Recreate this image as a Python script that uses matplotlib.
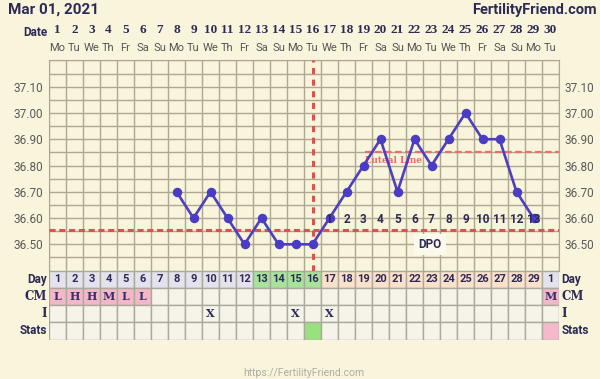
import numpy as np
import matplotlib
matplotlib.use('Agg')
from matplotlib import pyplot as plt
from matplotlib.patches import Rectangle
from matplotlib import transforms

# cycle data
days = list(range(1, 31))
weekdays = ['Mo', 'Tu', 'We', 'Th', 'Fr', 'Sa', 'Su'] * 4 + ['Mo', 'Tu']
temp_days = list(range(8, 30))
temps = [36.70, 36.60, 36.70, 36.60, 36.50, 36.60, 36.50, 36.50, 36.50,
         36.60, 36.70, 36.80, 36.90, 36.70, 36.90, 36.80, 36.90, 37.00,
         36.90, 36.90, 36.70, 36.60]
coverline = 36.555
luteal_line = 36.85
luteal_start = 19.1
ovulation_day = 16
dpo_days = list(range(17, 30))
dpo_labels = [str(i) for i in range(1, 14)]
ytick_vals = [36.50, 36.60, 36.70, 36.80, 36.90, 37.00, 37.10]
ylim = (36.40, 37.20)

table_day_labels = [str(d) for d in range(1, 30)] + ['1']
cm_values = {1: 'L', 2: 'H', 3: 'H', 4: 'M', 5: 'L', 6: 'L', 30: 'M'}
intercourse_days = [10, 15, 17]
stats_colors = {16: '#9be080', 30: '#f4b9cb'}
row_names = ['Day', 'CM', 'I', 'Stats']

bg = '#f9f4dc'
navy = '#2d2b55'
grid_c = '#aca891'
line_c = '#4d3fbf'
red_c = '#d9534f'

fig = plt.figure(figsize=(6, 3.79), dpi=100, facecolor=bg)
ax = fig.add_axes([49 / 600, 108.4 / 379, 510 / 600, 210.2 / 379])
ax.set_facecolor(bg)
ax.set_xlim(0.5, 30.5)
ax.set_ylim(*ylim)

for x in np.arange(0.5, 31, 1):
    ax.axvline(x, color=grid_c, lw=1, zorder=1)
for y in np.arange(ylim[0], ylim[1] + 0.001, 0.05):
    ax.axhline(y, color=grid_c, lw=1, zorder=1)
for s in ax.spines.values():
    s.set_color(grid_c)

ax.set_xticks([])
ax.set_yticks(ytick_vals)
ax.set_yticklabels(['%.2f' % v for v in ytick_vals])
ax.tick_params(axis='y', length=0, labelsize=8.5, labelcolor='#5a5a5a',
               labelright=True, pad=4)
for lab in ax.yaxis.get_ticklabels(which='both'):
    lab.set_family('Roboto')
for t in ax.yaxis.get_major_ticks():
    t.label2.set_family('Roboto')

# coverline, ovulation and luteal lines
ax.axhline(coverline, color=red_c, lw=2.2, ls=(0, (2, 1.2)), zorder=3)
ax.axvline(ovulation_day, color=red_c, lw=2.2, ls=(0, (2, 1.8)), zorder=3)
ax.plot([luteal_start, 30.5], [luteal_line] * 2, color='#e87070', lw=1.6,
        ls=(0, (3, 1.5)), zorder=3)
ax.text(luteal_start, luteal_line - 0.012, 'Luteal Line', color='#e86a6a',
        fontsize=6.5, fontweight='bold', family='DejaVu Serif', va='top',
        ha='left', zorder=4)

ax.plot(temp_days, temps, color=line_c, lw=1.9, marker='o', markersize=5.8,
        markerfacecolor='#4a3cc4', markeredgecolor='#4a3cc4', zorder=5)

for d, lab in zip(dpo_days, dpo_labels):
    ax.text(d, 36.595, lab, ha='center', va='center', fontsize=8.5,
            fontweight='bold', color=navy, family='Roboto', zorder=6)
ax.text(22.9, 36.50, 'DPO', ha='center', va='center', fontsize=8.5,
        fontweight='bold', color=navy, family='Roboto', zorder=6,
        bbox=dict(facecolor='#fbf8ec', edgecolor='none', pad=3))

# header
fig.text(8 / 600, 1 - 10 / 379, 'Mar 01, 2021', fontsize=11, fontweight='bold',
         color=navy, family='Roboto', va='center', ha='left')
fig.text(597 / 600, 1 - 10 / 379, 'FertilityFriend.com', fontsize=10.5,
         fontweight='bold', color=navy, family='Roboto', va='center', ha='right')
fig.text(35 / 600, 1 - 33 / 379, 'Date', fontsize=8.5, fontweight='bold',
         color=navy, family='Roboto', va='center', ha='center')
hdr = transforms.blended_transform_factory(ax.transData, fig.transFigure)
for d, wd in zip(days, weekdays):
    ax.text(d, 1 - 30 / 379, str(d), transform=hdr, ha='center', va='center',
            fontsize=9.5, fontweight='bold', color=navy, family='Liberation Serif')
    ax.text(d, 1 - 48 / 379, wd, transform=hdr, ha='center', va='center',
            fontsize=8, color='#555555', family='Roboto')

# table
tab = fig.add_axes([49 / 600, 39.5 / 379, 510 / 600, 68.9 / 379])
tab.set_xlim(0.5, 30.5)
tab.set_ylim(4, 0)
tab.axis('off')
for d in days:
    if d <= 12 or d == 30:
        day_c = '#e4e2ec'
    elif d <= 16:
        day_c = '#a7e39a'
    else:
        day_c = '#fbe1cc'
    fills = [day_c,
             '#f2b8c8' if d in cm_values else '#f6f4ea',
             '#f6f4ea',
             stats_colors.get(d, '#f6f4ea')]
    for r, c in enumerate(fills):
        tab.add_patch(Rectangle((d - 0.5, r), 1, 1, facecolor=c,
                                edgecolor='#aaa99a', lw=1))
    tab.text(d, 0.5, table_day_labels[d - 1], ha='center', va='center',
             fontsize=8, fontweight='bold', color=navy, family='Roboto')
    if d in cm_values:
        tab.text(d, 1.5, cm_values[d], ha='center', va='center', fontsize=8,
                 fontweight='bold', color='#3b2f6b', family='DejaVu Serif')
    if d in intercourse_days:
        tab.text(d, 2.5, 'X', ha='center', va='center', fontsize=8,
                 fontweight='bold', color='#2d2b55', family='DejaVu Serif')

fams = ['Roboto', 'DejaVu Serif', 'DejaVu Serif', 'Roboto']
for r, (name, fam) in enumerate(zip(row_names, fams)):
    tab.text(0.4, r + 0.5, name, ha='right', va='center', fontsize=8.5,
             fontweight='bold', color=navy, family=fam)
    tab.text(30.65, r + 0.5, name, ha='left', va='center', fontsize=8.5,
             fontweight='bold', color=navy, family=fam)

fig.text(304 / 600, 1 - 378 / 379, 'https://FertilityFriend.com', fontsize=7.5,
         color='#b0ada0', family='Roboto', ha='center', va='bottom')

fig.savefig('out.png', dpi=100, facecolor=bg)
